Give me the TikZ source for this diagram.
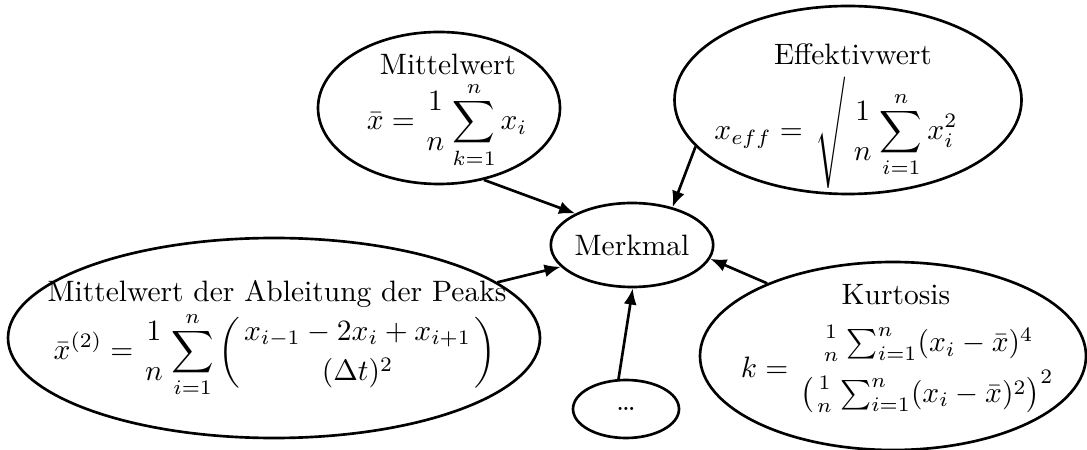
\documentclass[tikz,border=0pt]{standalone}
\usepackage{amsmath}
\usepackage{graphicx}
\usetikzlibrary{shapes.geometric,arrows.meta}
% fraction without a bar
\newcommand{\nbfrac}[2]{\genfrac{}{}{0pt}{}{#1}{#2}}
% tall radical sign without the overbar, centred on the math axis
\newcommand{\tallroot}{\vcenter{\hbox{\scalebox{1}[1.26]{$\mathchar"0373$}}}}
\begin{document}
\begin{tikzpicture}[x=0.339pt,y=-0.339pt,
  feat/.style={draw,ellipse,line width=0.9pt,inner sep=0pt},
  txt/.style={inner sep=0pt,anchor=base},
  arr/.style={line width=0.9pt,-{Latex[length=5.5pt,width=4.4pt]}}]
\useasboundingbox (0,0) rectangle (1087,450);

% feature ellipses
\node[feat,minimum width={242*0.339pt},minimum height={152*0.339pt}] (mw) at (439,108) {};
\node[feat,minimum width={347*0.339pt},minimum height={188*0.339pt}] (eff) at (848,100) {};
\node[feat,minimum width={156*0.339pt},minimum height={84*0.339pt}] (mm) at (632,245) {Merkmal};
\node[feat,minimum width={532*0.339pt},minimum height={200*0.339pt}] (abl) at (274,338) {};
\node[feat,minimum width={386*0.339pt},minimum height={188*0.339pt}] (kur) at (893,356) {};
\node[feat,minimum width={106*0.339pt},minimum height={58*0.339pt}] (dots) at (626,409) {\dots};

% titles
\node[txt] (mwtitle)  at (448,75)  {Mittelwert};
\node[txt] (efftitle) at (853,65)  {Effektivwert};
\node[txt] (abltitle) at (277,302) {Mittelwert der Ableitung der Peaks};
\node[txt] (kurtitle) at (896,305) {Kurtosis};

% formulas
\node[txt] (mwform) at (447,130)
  {$\displaystyle \bar{x} = \nbfrac{1}{n}\sum_{k=1}^{n} x_i$};
\node[txt] (effform) at (836,140)
  {$\displaystyle x_{eff} = \,\tallroot\, \nbfrac{1}{n}\sum_{i=1}^{n} x_i^2$};
\node[txt] (ablform) at (275,360)
  {$\displaystyle \bar{x}^{(2)} = \nbfrac{1}{n}\sum_{i=1}^{n}\left(\nbfrac{x_{i-1}-2x_i+x_{i+1}}{(\Delta t)^2}\right)$};
\node[txt] (kurform) at (899,377)
  {$\displaystyle k = \nbfrac{\nbfrac{1}{n}\sum_{i=1}^{n}(x_i-\bar{x})^4}{\left(\nbfrac{1}{n}\sum_{i=1}^{n}(x_i-\bar{x})^2\right)^2}$};

% connectors
\draw[arr] (mw.-58) -- (mm.151);
\draw[arr] (eff.197) -- (mm.43);
\draw[arr] (abl.14) -- (mm.197);
\draw[arr] (kur.150) -- (mm.-10);
\draw[arr] (dots.104) -- (mm.271);
\end{tikzpicture}
\end{document}
